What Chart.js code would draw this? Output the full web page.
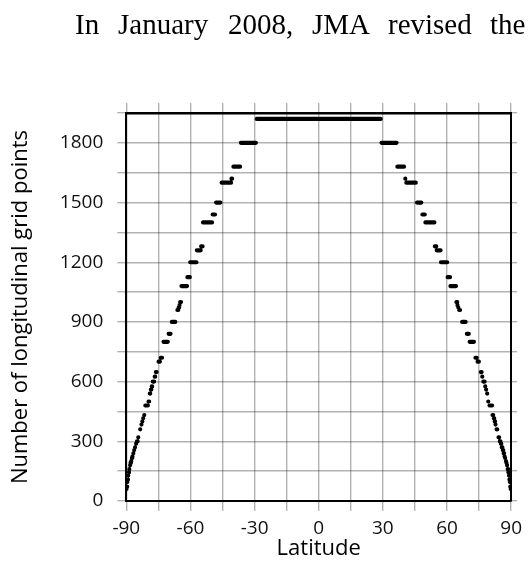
<!DOCTYPE html>
<html>
<head>
<meta charset="utf-8">
<script src="https://cdn.jsdelivr.net/npm/chart.js@4.4.1/dist/chart.umd.min.js"></script>
<style>
  html, body { margin: 0; padding: 0; background: #fff; }
  #wrap { position: relative; width: 528px; height: 571px; overflow: hidden; }
  #c { position: absolute; left: 0; top: 0; }
  .w { position: absolute; top: 8px; font-family: "Liberation Serif", "Times New Roman", serif; font-size: 29px; color: #000; white-space: nowrap; }
</style>
</head>
<body>
<div id="wrap">
  <canvas id="c" width="528" height="571"></canvas>
  <span class="w" style="left:75px">In</span>
  <span class="w" style="left:118px">January</span>
  <span class="w" style="left:228px">2008,</span>
  <span class="w" style="left:312px">JMA</span>
  <span class="w" style="left:388px">revised</span>
  <span class="w" style="left:490px">the</span>
</div>
<script>
// Equatorial band
const equatorStart = [-29.0];
const equatorEnd = [29.0];
const equatorValue = [1920];

// Northern hemisphere plateaus (latitude start, latitude end, number of points)
const northStart = [29.4, 36.8, 40.5, 41.0, 46.0, 48.5, 49.9, 54.3, 55.2, 57.2,
  60.3, 61.6, 64.4, 64.9, 65.3, 65.7, 67.1, 69.3, 70.6, 73.3,
  74.3, 75.8, 76.5, 77.0, 77.9, 78.3, 78.8, 79.3, 79.9, 81.3,
  81.9, 82.3, 82.7, 83.2, 84.1, 84.7, 85.2, 85.6, 86.1, 86.5,
  86.9, 87.2, 87.6, 87.8, 88.1, 88.4, 88.7, 89.0, 89.2, 89.4,
  89.6, 89.8];
const northEnd = [36.4, 39.9, 40.8, 45.4, 48.0, 49.6, 54.1, 55.0, 57.0, 60.1,
  61.4, 64.2, 64.8, 65.1, 65.5, 66.1, 68.7, 70.2, 72.6, 73.9,
  74.9, 76.2, 76.7, 77.6, 78.1, 78.5, 79.0, 79.6, 81.1, 81.6,
  82.1, 82.5, 82.9, 83.5, 84.4, 85.0, 85.4, 85.9, 86.3, 86.7,
  87.1, 87.4, 87.7, 88.0, 88.2, 88.6, 88.8, 89.1, 89.3, 89.5,
  89.7, 89.9];
const northValue = [1800, 1680, 1620, 1600, 1500, 1440, 1400, 1280, 1260, 1200,
  1125, 1080, 1000, 984, 972, 960, 900, 840, 800, 720,
  700, 648, 625, 600, 576, 560, 540, 500, 480, 432,
  416, 400, 384, 360, 320, 300, 288, 270, 256, 240,
  225, 216, 200, 192, 180, 160, 144, 128, 108, 96,
  72, 60];

// Southern hemisphere plateaus
const southStart = [-36.4, -39.9, -40.8, -45.4, -48.0, -49.6, -54.1, -55.0, -57.0, -60.1,
  -61.4, -64.2, -64.8, -65.1, -65.5, -66.1, -68.7, -70.2, -72.6, -73.9,
  -74.9, -76.2, -76.7, -77.6, -78.1, -78.5, -79.0, -79.6, -81.1, -81.6,
  -82.1, -82.5, -82.9, -83.5, -84.4, -85.0, -85.4, -85.9, -86.3, -86.7,
  -87.1, -87.4, -87.7, -88.0, -88.2, -88.6, -88.8, -89.1, -89.3, -89.5,
  -89.7, -89.9];
const southEnd = [-29.4, -36.8, -40.5, -41.0, -46.0, -48.5, -49.9, -54.3, -55.2, -57.2,
  -60.3, -61.6, -64.4, -64.9, -65.3, -65.7, -67.1, -69.3, -70.6, -73.3,
  -74.3, -75.8, -76.5, -77.0, -77.9, -78.3, -78.8, -79.3, -79.9, -81.3,
  -81.9, -82.3, -82.7, -83.2, -84.1, -84.7, -85.2, -85.6, -86.1, -86.5,
  -86.9, -87.2, -87.6, -87.8, -88.1, -88.4, -88.7, -89.0, -89.2, -89.4,
  -89.6, -89.8];
const southValue = [1800, 1680, 1620, 1600, 1500, 1440, 1400, 1280, 1260, 1200,
  1125, 1080, 1000, 984, 972, 960, 900, 840, 800, 720,
  700, 648, 625, 600, 576, 560, 540, 500, 480, 432,
  416, 400, 384, 360, 320, 300, 288, 270, 256, 240,
  225, 216, 200, 192, 180, 160, 144, 128, 108, 96,
  72, 60];

const xTicksLabeled = [-90, -60, -30, 0, 30, 60, 90];
const yTicksLabeled = [0, 300, 600, 900, 1200, 1500, 1800];

function segments(starts, ends, values) {
  const out = [];
  for (let i = 0; i < values.length; i++) {
    out.push({x: starts[i], y: values[i]});
    out.push({x: ends[i], y: values[i]});
    out.push({x: ends[i], y: null});
  }
  return out;
}

const FONT = '"Open Sans", "Noto Sans", sans-serif';
const GRID = 'rgba(0,0,0,0.3)';
const lineStyle = {
  showLine: true, spanGaps: false, borderColor: '#000', borderWidth: 4.2,
  borderCapStyle: 'round', pointRadius: 0, pointHoverRadius: 0, tension: 0
};

new Chart(document.getElementById('c'), {
  type: 'scatter',
  data: {
    datasets: [
      Object.assign({ data: segments(equatorStart, equatorEnd, equatorValue) }, lineStyle),
      Object.assign({ data: segments(northStart, northEnd, northValue) }, lineStyle),
      Object.assign({ data: segments(southStart, southEnd, southValue) }, lineStyle)
    ]
  },
  options: {
    responsive: false,
    animation: false,
    events: [],
    layout: { padding: { top: 103, right: 10, left: 0, bottom: 0 } },
    plugins: { legend: { display: false }, tooltip: { enabled: false } },
    scales: {
      x: {
        type: 'linear', position: 'bottom', min: -90, max: 90,
        afterBuildTicks: s => { s.ticks = []; for (let v = -90; v <= 90; v += 15) s.ticks.push({value: v}); },
        ticks: { autoSkip: false, maxRotation: 0, color: '#111', font: { family: FONT, size: 19 }, padding: 6,
          callback: v => xTicksLabeled.includes(v) ? String(v) : '' },
        grid: { color: GRID, lineWidth: 1.4, tickLength: 10, tickColor: GRID },
        border: { color: '#000', width: 2 },
        title: { display: true, text: 'Latitude', color: '#000', font: { family: FONT, size: 22 }, padding: { top: 2, bottom: 9 } },
        afterFit: s => { s.height = 70; }
      },
      x2: {
        type: 'linear', position: 'top', min: -90, max: 90,
        afterBuildTicks: s => { s.ticks = []; for (let v = -90; v <= 90; v += 15) s.ticks.push({value: v}); },
        ticks: { display: false },
        grid: { display: true, drawOnChartArea: false, color: GRID, lineWidth: 1.4, tickLength: 10, tickColor: GRID },
        border: { color: '#000', width: 2.6 },
        afterFit: s => { s.height = 10; }
      },
      y: {
        type: 'linear', position: 'left', min: 0, max: 1950,
        afterBuildTicks: s => { s.ticks = []; for (let v = 0; v <= 1950; v += 150) s.ticks.push({value: v}); },
        ticks: { autoSkip: false, color: '#111', font: { family: FONT, size: 19 }, padding: 14,
          callback: v => yTicksLabeled.includes(v) ? String(v) : '' },
        grid: { color: GRID, lineWidth: 1.4, tickLength: 9, tickColor: GRID },
        border: { color: '#000', width: 2 },
        title: { display: true, text: 'Number of longitudinal grid points', color: '#000', font: { family: FONT, size: 22 }, padding: { top: 8, bottom: 4 } },
        afterFit: s => { s.width = 126.3; }
      },
      y2: {
        type: 'linear', position: 'right', min: 0, max: 1950,
        afterBuildTicks: s => { s.ticks = []; for (let v = 0; v <= 1950; v += 150) s.ticks.push({value: v}); },
        ticks: { display: false },
        grid: { display: true, drawOnChartArea: false, color: GRID, lineWidth: 1.4, tickLength: 6, tickColor: GRID },
        border: { color: '#000', width: 2 },
        afterFit: s => { s.width = 6; }
      }
    }
  }
});
</script>
</body>
</html>
